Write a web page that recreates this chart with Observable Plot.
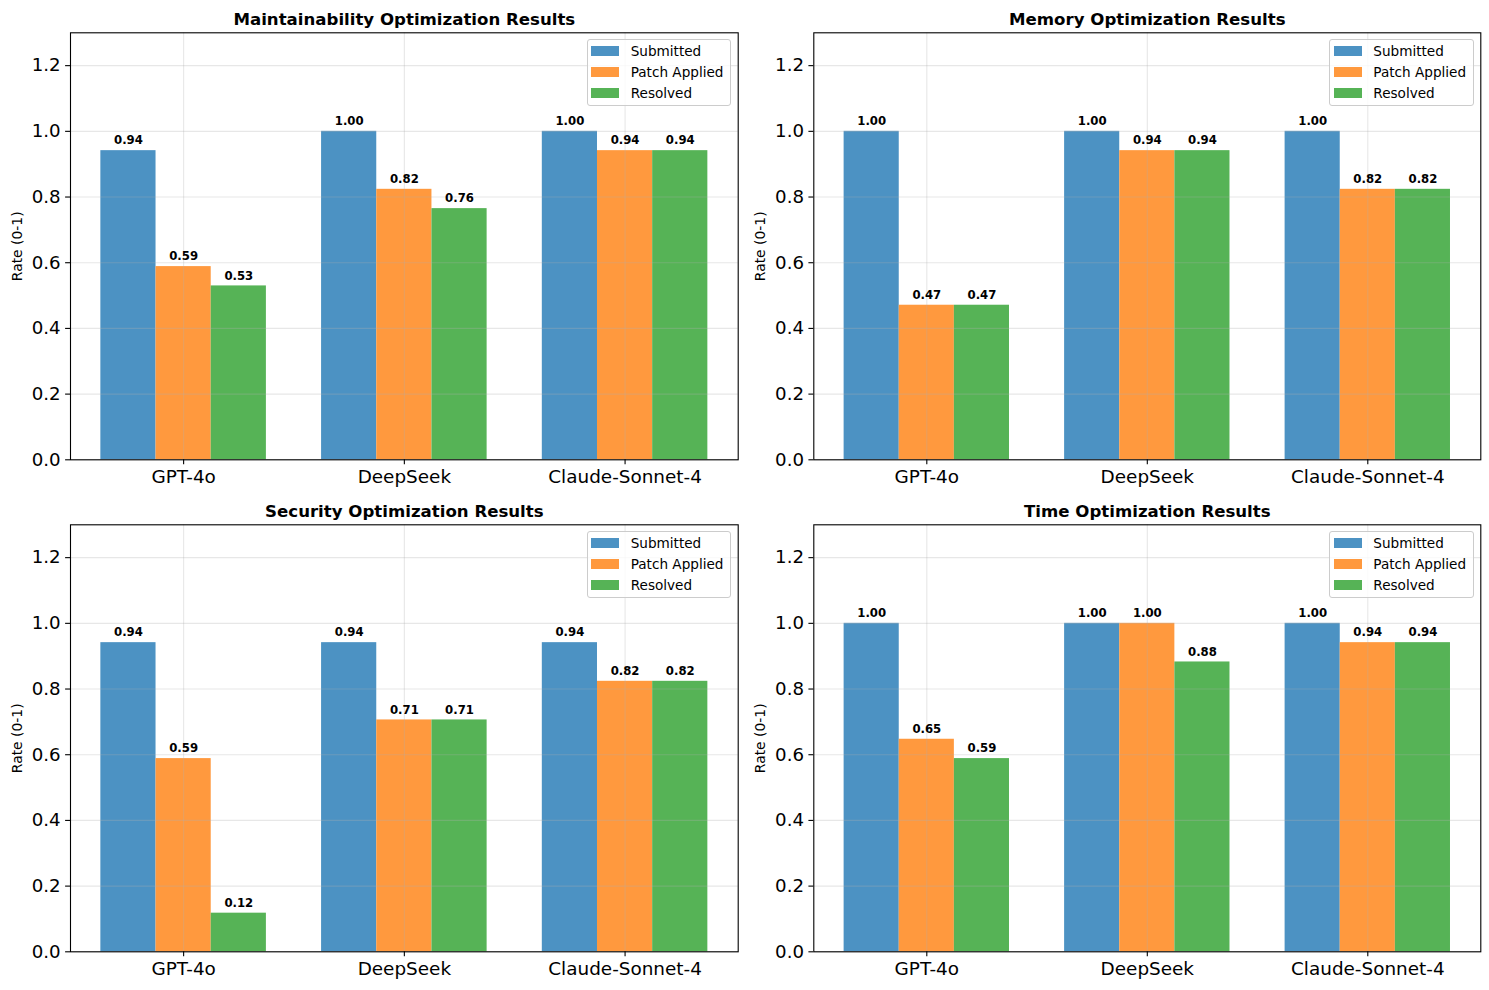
<!DOCTYPE html>
<html>
<head>
<meta charset="utf-8">
<script src="https://cdn.jsdelivr.net/npm/d3@7"></script>
<script src="https://cdn.jsdelivr.net/npm/@observablehq/plot@0.6"></script>
<style>
  body { margin: 0; background: #ffffff; }
  #fig { position: relative; width: 1489px; height: 990px; background: #ffffff; font-family: "DejaVu Sans", sans-serif; overflow: hidden; }
  .panel { position: absolute; }
  .legend { position: absolute; width: 144.6px; height: 66.7px; box-sizing: border-box; background: rgba(255,255,255,0.8); border: 1px solid #cccccc; border-radius: 3px; }
  .legend .sw { position: absolute; left: 3.3px; width: 28px; height: 9.8px; }
  .legend .lb { position: absolute; left: 43px; font-size: 13.6px; line-height: 16px; color: #000; white-space: nowrap; }
</style>
</head>
<body>
<div id="fig"></div>
<script>
// ---- data ----
const models = ["GPT-4o", "DeepSeek", "Claude-Sonnet-4"];
const seriesNames = ["Submitted", "Patch Applied", "Resolved"];
const seriesColors = ["#4c92c3", "#ff993e", "#56b356"];
const panelTitles = [
  "Maintainability Optimization Results",
  "Memory Optimization Results",
  "Security Optimization Results",
  "Time Optimization Results"
];
const yTicks = [0, 0.2, 0.4, 0.6, 0.8, 1.0, 1.2];
const yLabel = "Rate (0-1)";

// values per series (Submitted, Patch Applied, Resolved), each across models
const maintainabilitySubmitted = [0.9412, 1.0, 1.0];
const maintainabilityPatch     = [0.5882, 0.8235, 0.9412];
const maintainabilityResolved  = [0.5294, 0.7647, 0.9412];

const memorySubmitted = [1.0, 1.0, 1.0];
const memoryPatch     = [0.4706, 0.9412, 0.8235];
const memoryResolved  = [0.4706, 0.9412, 0.8235];

const securitySubmitted = [0.9412, 0.9412, 0.9412];
const securityPatch     = [0.5882, 0.7059, 0.8235];
const securityResolved  = [0.1176, 0.7059, 0.8235];

const timeSubmitted = [1.0, 1.0, 1.0];
const timePatch     = [0.6471, 1.0, 0.9412];
const timeResolved  = [0.5882, 0.8824, 0.9412];

const panelData = [
  [maintainabilitySubmitted, maintainabilityPatch, maintainabilityResolved],
  [memorySubmitted, memoryPatch, memoryResolved],
  [securitySubmitted, securityPatch, securityResolved],
  [timeSubmitted, timePatch, timeResolved]
];

// ---- layout ----
const barWidth = 0.25;
const W = 744, H = 495;
const colLayout = [
  {left: 0, marginLeft: 70, marginRight: 6.3},
  {left: 744, marginLeft: 69.3, marginRight: 7.7}
];
const rowLayout = [{top: 0}, {top: 492}];
const marginTop = 32.3, marginBottom = 35.7;

const fig = document.getElementById("fig");

panelData.forEach((series, p) => {
  const col = colLayout[p % 2];
  const row = rowLayout[Math.floor(p / 2)];
  const rows = models.flatMap((m, i) => seriesNames.map((s, j) => {
    const c = i + (j - 1) * barWidth;
    return {model: m, series: s, xc: c, x1: c - barWidth / 2, x2: c + barWidth / 2, value: series[j][i], color: seriesColors[j]};
  }));
  const gridStyle = {stroke: "#b0b0b0", strokeOpacity: 0.3, strokeWidth: 1.1};
  const chart = Plot.plot({
    width: W,
    height: H,
    marginLeft: col.marginLeft,
    marginRight: col.marginRight,
    marginTop,
    marginBottom,
    style: {fontFamily: "DejaVu Sans", background: "transparent", overflow: "visible", color: "#000"},
    x: {domain: [-0.5 - barWidth * 0.05, 2.5 + barWidth * 0.05]},
    y: {domain: [0, 1.3]},
    color: {type: "identity"},
    marks: [
      Plot.rectY(rows, {x1: "x1", x2: "x2", y1: 0, y2: "value", fill: "color"}),
      Plot.gridY(yTicks, gridStyle),
      Plot.gridX([0, 1, 2], gridStyle),
      Plot.text(rows, {x: "xc", y: "value", text: d => d.value.toFixed(2), dy: -6.3, lineAnchor: "bottom", fontWeight: "bold", fontSize: 11.7, fill: "#000"}),
      Plot.axisY(yTicks, {tickFormat: d => d.toFixed(1), tickSize: 4.9, tickPadding: 4.9, fontSize: 18.2, strokeWidth: 1.1, label: null}),
      Plot.axisX([0, 1, 2], {tickFormat: i => models[i], tickSize: 4.9, tickPadding: 4.9, fontSize: 18.4, strokeWidth: 1.1, label: null}),
      Plot.frame({stroke: "#000", strokeWidth: 1.1}),
      Plot.text([panelTitles[p]], {frameAnchor: "top", dy: -8.3, lineAnchor: "bottom", fontWeight: "bold", fontSize: 16.6, fill: "#000"}),
      Plot.text([yLabel], {frameAnchor: "left", dx: -53, rotate: -90, textAnchor: "middle", lineAnchor: "middle", fontSize: 13.9, fill: "#000"})
    ]
  });
  const wrap = document.createElement("div");
  wrap.className = "panel";
  wrap.style.left = col.left + "px";
  wrap.style.top = row.top + "px";
  wrap.appendChild(chart);
  fig.appendChild(wrap);

  // legend (upper right inside axes)
  const lg = document.createElement("div");
  lg.className = "legend";
  const axRight = col.left + W - col.marginRight;
  lg.style.left = (axRight - 6.4 - 144.6) + "px";
  lg.style.top = (row.top + marginTop + 7) + "px";
  seriesNames.forEach((s, j) => {
    const cy = 11.9 + j * 20.8;
    const sw = document.createElement("div");
    sw.className = "sw";
    sw.style.top = (cy - 4.9 - 1) + "px";
    sw.style.background = seriesColors[j];
    const lb = document.createElement("div");
    lb.className = "lb";
    lb.style.top = (cy - 8 - 1) + "px";
    lb.textContent = s;
    lg.appendChild(sw);
    lg.appendChild(lb);
  });
  fig.appendChild(lg);
});
</script>
</body>
</html>
